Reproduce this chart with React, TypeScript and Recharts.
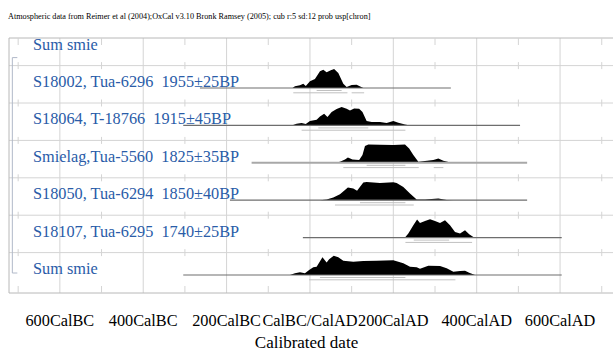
import { ComposedChart, Area, XAxis, YAxis, ReferenceLine, CartesianGrid } from "recharts";

const TITLE =
  "Atmospheric data from Reimer et al (2004);OxCal v3.10 Bronk Ramsey (2005); cub r:5 sd:12 prob usp[chron]";

// x axis (calendar years, BC negative)
const YEAR_TICKS = [-600, -400, -200, 0, 200, 400, 600];
const TICK_LABELS = ["600CalBC", "400CalBC", "200CalBC", "CalBC/CalAD", "200CalAD", "400CalAD", "600CalAD"];
const MINOR_YEARS = [-700, -500, -300, -100, 100, 300, 500, 700];

// rows, top to bottom
const ROW_LABELS = [
  "Sum smie",
  "S18002, Tua-6296  1955±25BP",
  "S18064, T-18766  1915±45BP",
  "Smielag,Tua-5560  1825±35BP",
  "S18050, Tua-6294  1850±40BP",
  "S18107, Tua-6295  1740±25BP",
  "Sum smie",
];
const ROW_BASES = [6, 5, 4, 3, 2, 1, 0];

// [year, relative probability]
const s18002 = [[-42, 0], [-36, 1.7], [-24, 2.7], [-16, 4.3], [-10, 2], [0, 6.7], [12, 9], [24, 16.7], [32, 18.3], [40, 15.7], [50, 17.7], [58, 19], [68, 15], [80, 4.3], [88, 1], [100, 3], [112, 3.3], [128, 0]];
const s18064 = [[-44, 0], [-32, 1.7], [-20, 2.3], [-10, 1.3], [0, 4.3], [16, 5.7], [24, 9], [34, 11.7], [42, 8.3], [52, 13.3], [64, 16.3], [76, 18.3], [88, 16.7], [96, 15], [106, 17], [118, 16.7], [126, 13.3], [136, 4.3], [148, 3.3], [168, 3.3], [184, 2.3], [200, 4.3], [212, 2.7], [228, 1], [240, 0]];
const smielag = [[60, 0], [72, 1], [84, 3.3], [91, 5.3], [102, 3.3], [118, 2.7], [126, 7.7], [132, 16.7], [140, 18.3], [168, 18], [200, 17.7], [228, 18.3], [238, 14.3], [248, 7.7], [260, 1], [276, 1.7], [296, 2.7], [308, 4.3], [320, 2], [340, 0]];
const s18050 = [[24, 0], [40, 0.7], [56, 2.7], [72, 6], [91, 12.7], [104, 11.7], [113, 9.5], [128, 17.7], [136, 18.3], [168, 17.3], [200, 18], [208, 17.3], [224, 13.3], [240, 6.7], [256, 0.7], [276, 0.7], [308, 1.7], [328, 0.3], [344, 0]];
const s18107 = [[228, 0], [236, 4], [248, 12.3], [257, 18], [264, 14.7], [276, 16.7], [288, 18.3], [300, 16.7], [312, 14.7], [324, 17.3], [336, 12.3], [348, 5.7], [360, 4], [372, 7.3], [382, 3.3], [392, 0.7], [396, 0]];
const sumSmie = [[-48, 0], [-36, 1.7], [-24, 2.7], [-12, 1.7], [-2, 5], [8, 7.7], [16, 8.3], [30, 17.7], [40, 12.5], [46, 15.7], [57, 19.3], [68, 17.7], [80, 14.3], [104, 13.3], [128, 14], [160, 14.3], [200, 14.8], [224, 11.7], [240, 8.3], [256, 7.7], [264, 6.3], [284, 9.3], [312, 9], [328, 6.7], [344, 3.3], [360, 4], [372, 4.3], [382, 2.3], [396, 0]];

const DISTS = [s18002, s18064, smielag, s18050, s18107, sumSmie];
const LINE_SPANS = [[-264, 338], [-304, 504], [-140, 521], [-192, 521], [-17, 604], [-304, 604]];
const RANGES_68 = [[[16, 76]], [[20, 140]], [[136, 229]], [[120, 229]], [[249, 334]], [[24, 229]]];
const RANGES_95 = [[[-40, 90], [100, 130]], [[-20, 229]], [[80, 261], [297, 320]], [[60, 249]], [[229, 389]], [[-2, 349]]];

const ROW_H = 37.4; // pixels per row unit
const Y_DOMAIN = [-0.481, 6.337];
const X_DOMAIN = [-722, 727];
const FONT = "'Liberation Serif', 'Times New Roman', serif";
const BLUE = "#2a5ca8";
const GRID = "#d4d4d4";

const px = (p: number) => p / ROW_H;

function XTick(props: any) {
  const { x, payload } = props;
  const i = YEAR_TICKS.indexOf(payload.value);
  return (
    <text x={x} y={326} textAnchor="middle" fontFamily={FONT} fontSize={16.3} fill="#000">
      {TICK_LABELS[i]}
    </text>
  );
}

function RowLabel(props: any, text: string) {
  const vb = props.viewBox || {};
  return (
    <text x={33} y={vb.y - 1} fontFamily={FONT} fontSize={16.3} fill={BLUE} style={{ whiteSpace: "pre" }}>
      {text}
    </text>
  );
}

export default function App() {
  const gridYs = ROW_BASES.slice(0, 6).map((b) => b - px(15));
  return (
    <div style={{ position: "absolute", left: 0, top: 0, width: 613, height: 352, background: "#fff", fontFamily: FONT }}>
      <div style={{ position: "absolute", left: 8, top: 12, fontSize: 8.2, whiteSpace: "nowrap", color: "#000" }}>{TITLE}</div>
      <div style={{ position: "absolute", left: 0, top: 333, width: 613, textAlign: "center", fontSize: 17 }}>
        Calibrated date
      </div>
      <ComposedChart width={613} height={352} margin={{ top: 38, right: 0, bottom: 0, left: 9 }}>
        <CartesianGrid verticalValues={YEAR_TICKS} horizontalValues={gridYs} stroke={GRID} />
        <XAxis
          type="number"
          dataKey="year"
          domain={X_DOMAIN}
          allowDataOverflow
          ticks={YEAR_TICKS}
          interval={0}
          height={59}
          axisLine={false}
          tickLine={false}
          tick={(p: any) => <XTick {...p} />}
        />
        <YAxis type="number" domain={Y_DOMAIN} allowDataOverflow width={0} hide />

        {/* frame */}
        <ReferenceLine y={Y_DOMAIN[1]} stroke="#b8b8b8" ifOverflow="visible" />
        <ReferenceLine y={Y_DOMAIN[0]} stroke="#b8b8b8" ifOverflow="visible" />
        <ReferenceLine x={X_DOMAIN[0]} stroke="#b8b8b8" ifOverflow="visible" />

        {/* minor ticks */}
        {MINOR_YEARS.map((t) =>
          gridYs.map((g, i) => (
            <ReferenceLine
              key={"m" + t + "_" + i}
              segment={[{ x: t, y: g - px(3.5) }, { x: t, y: g + px(3.5) }]}
              stroke={GRID}
            />
          ))
        )}
        {MINOR_YEARS.map((t) => (
          <ReferenceLine key={"mt" + t} segment={[{ x: t, y: Y_DOMAIN[1] }, { x: t, y: Y_DOMAIN[1] - px(7) }]} stroke={GRID} />
        ))}
        {MINOR_YEARS.map((t) => (
          <ReferenceLine key={"mb" + t} segment={[{ x: t, y: Y_DOMAIN[0] }, { x: t, y: Y_DOMAIN[0] + px(7) }]} stroke={GRID} />
        ))}

        {/* group bracket */}
        <ReferenceLine segment={[{ x: -714, y: 6 - px(7) }, { x: -714, y: px(2) }]} stroke="#b0b8c8" ifOverflow="visible" />
        <ReferenceLine segment={[{ x: -714, y: 6 - px(7) }, { x: -702, y: 6 - px(7) }]} stroke="#b0b8c8" ifOverflow="visible" />
        <ReferenceLine segment={[{ x: -714, y: px(2) }, { x: -702, y: px(2) }]} stroke="#b0b8c8" ifOverflow="visible" />

        {/* row labels */}
        {ROW_BASES.map((b, i) => (
          <ReferenceLine
            key={"lab" + i}
            y={b}
            stroke="none"
            ifOverflow="visible"
            label={(p: any) => RowLabel(p, ROW_LABELS[i])}
          />
        ))}

        {/* distributions */}
        {DISTS.map((d, i) => {
          const base = ROW_BASES[i + 1];
          const span = LINE_SPANS[i];
          return (
            <ReferenceLine
              key={"base" + i}
              segment={[{ x: span[0], y: base }, { x: span[1], y: base }]}
              stroke={i === 2 ? "#a8a8a8" : "#6e6e6e"}
              strokeWidth={i === 2 ? 2 : 1.2}
            />
          );
        })}
        {DISTS.map((d, i) => {
          const base = ROW_BASES[i + 1];
          return (
            <Area
              key={"area" + i}
              data={d.map(([year, p]) => ({ year, p }))}
              dataKey={(r: any) => [base, base + px(r.p)]}
              type="linear"
              stroke="none"
              fill="#000"
              fillOpacity={1}
              isAnimationActive={false}
              dot={false}
              activeDot={false}
            />
          );
        })}
        {RANGES_68.map((rs, i) =>
          rs.map((r, j) => (
            <ReferenceLine
              key={"r68" + i + j}
              segment={[{ x: r[0], y: ROW_BASES[i + 1] - px(2.5) }, { x: r[1], y: ROW_BASES[i + 1] - px(2.5) }]}
              stroke="#c0c0c0"
            />
          ))
        )}
        {RANGES_95.map((rs, i) =>
          rs.map((r, j) => (
            <ReferenceLine
              key={"r95" + i + j}
              segment={[{ x: r[0], y: ROW_BASES[i + 1] - px(4.8) }, { x: r[1], y: ROW_BASES[i + 1] - px(4.8) }]}
              stroke="#c0c0c0"
            />
          ))
        )}
      </ComposedChart>
    </div>
  );
}
